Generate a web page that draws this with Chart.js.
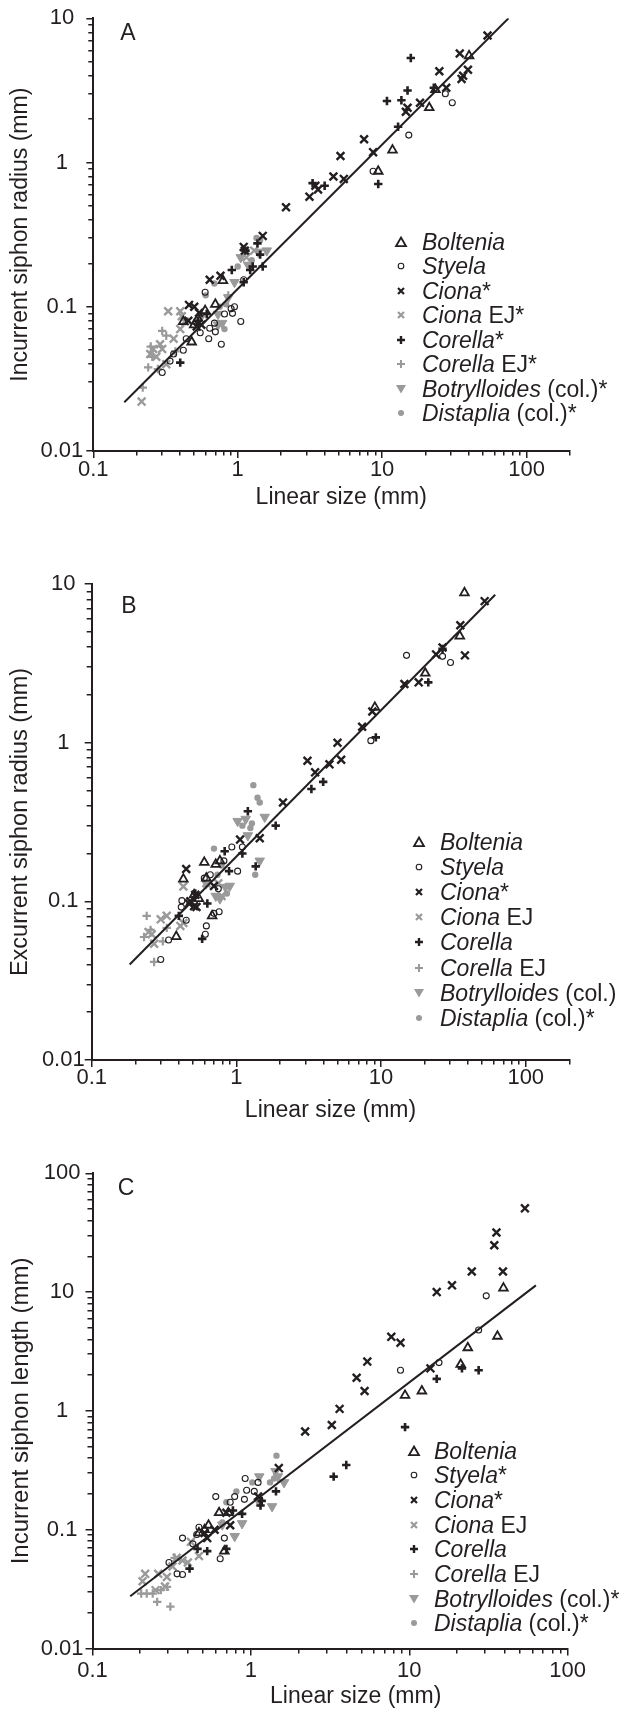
<!DOCTYPE html>
<html>
<head>
<meta charset="utf-8">
<title>Siphon size vs linear size</title>
<script src="https://cdn.jsdelivr.net/npm/chart.js@4.4.1/dist/chart.umd.min.js"></script>
<style>
  html, body { margin: 0; padding: 0; background: #fff; }
  body { position: relative; width: 624px; height: 1719px; overflow: hidden;
         font-family: "Liberation Sans", Arial, sans-serif; color: #231f20; }
  canvas { position: absolute; left: 0; }
  .tag { position: absolute; font-size: 23px; line-height: 23px; transform: translate(-50%, -50%); }
  .row { position: absolute; font-size: 23px; line-height: 24px; white-space: nowrap; transform: translateY(-50%); }
  .mark { position: absolute; }
</style>
</head>
<body>
<canvas id="chartA" width="624" height="520" style="top:0;width:624px;height:520px"></canvas>
<canvas id="chartB" width="624" height="580" style="top:560px;width:624px;height:580px"></canvas>
<canvas id="chartC" width="624" height="579" style="top:1140px;width:624px;height:579px"></canvas>
<div id="overlay"></div>
<script>
// ---- data: [linear size (mm), siphon value (mm)] ----

// Panel A: incurrent siphon radius
var aBoltenia = [[9.4,0.87],[11.8,1.22],[21.2,2.4],[23.4,3.2],[40,5.5],[0.79,0.152],[0.595,0.094],[0.5,0.075],[0.42,0.079],[0.48,0.057],[0.7,0.104],[0.53,0.083]];
var aStyela = [[27.4,3.0],[30.6,2.6],[15.3,1.55],[8.66,0.87],[0.595,0.126],[1.1,0.154],[0.95,0.1],[0.9,0.097],[1.05,0.079],[0.77,0.055],[0.63,0.06],[0.7,0.067],[0.81,0.089],[0.92,0.09],[0.69,0.077],[0.3,0.035],[0.34,0.042],[0.36,0.047],[0.42,0.05],[0.44,0.06],[0.55,0.066],[0.64,0.071]];
var aCiona = [[53.7,7.6],[34.5,5.7],[24.9,4.3],[36.4,4.0],[39.3,4.4],[35.5,3.8],[27.8,3.3],[18.3,2.6],[15,2.4],[14.6,2.25],[8.66,1.18],[7.5,1.45],[5.15,1.11],[4.6,0.8],[5.43,0.77],[3.45,0.69],[3.14,0.58],[3.6,0.65],[2.16,0.49],[1.49,0.31],[1.1,0.26],[1.12,0.245],[0.64,0.154],[0.76,0.164],[0.46,0.103],[0.5,0.1],[0.54,0.091],[0.455,0.08],[0.52,0.073],[0.56,0.075]];
var aCionaEJ = [[0.216,0.022],[0.33,0.093],[0.4,0.093],[0.41,0.086],[0.248,0.047],[0.26,0.051],[0.273,0.045],[0.3,0.051],[0.36,0.06],[0.4,0.07],[0.43,0.079],[0.32,0.04],[0.29,0.055],[1.15,0.22],[1.3,0.245]];
var aCorella = [[15.8,5.3],[10.8,2.67],[13.6,2.7],[15,3.16],[22.8,3.3],[12.9,1.77],[9.4,0.71],[4.0,0.69],[3.3,0.72],[1.37,0.275],[1.43,0.23],[1.49,0.19],[1.27,0.19],[1.22,0.18],[1.13,0.245],[1.1,0.148],[0.91,0.18],[0.4,0.041],[0.53,0.08],[0.61,0.089]];
var aCorellaEJ = [[0.22,0.0275],[0.24,0.038],[0.256,0.045],[0.3,0.068],[0.32,0.063],[0.25,0.053],[0.28,0.037],[0.37,0.049],[0.86,0.12]];
var aBotry = [[1.59,0.245],[1.05,0.22],[1.18,0.195],[0.95,0.148],[0.86,0.116],[0.73,0.089],[0.78,0.077],[0.55,0.083],[0.73,0.075],[1.39,0.24]];
var aDistaplia = [[1.35,0.3],[1.43,0.29],[1.15,0.245],[1.0,0.19],[0.69,0.145],[0.6,0.12],[0.81,0.07],[0.75,0.1],[0.83,0.104],[1.25,0.21]];
var aFit = [[0.164,0.0218],[75,10]];

// Panel B: excurrent siphon radius
var bBoltenia = [[37.7,8.8],[35,4.7],[20.2,2.74],[9.06,1.67],[0.43,0.138],[0.6,0.176],[0.72,0.171],[0.51,0.11],[0.55,0.104],[0.68,0.081],[0.384,0.06],[0.77,0.18],[0.62,0.14]];
var bStyela = [[15,3.55],[26.6,3.5],[30.2,3.2],[8.5,1.03],[0.3,0.043],[0.34,0.057],[0.42,0.101],[0.416,0.092],[0.45,0.076],[0.6,0.14],[0.75,0.12],[0.76,0.086],[0.7,0.084],[0.62,0.07],[0.61,0.062],[0.82,0.18],[0.93,0.22],[1.02,0.155],[1.1,0.22],[0.66,0.147]];
var bCiona = [[52,7.8],[35.3,5.5],[26.6,3.98],[38,3.55],[24,3.6],[18.2,2.4],[14.5,2.34],[8.7,1.57],[7.4,1.26],[5.0,1.0],[5.3,0.78],[4.4,0.73],[3.1,0.77],[3.5,0.65],[2.1,0.42],[1.45,0.25],[1.06,0.245],[0.45,0.16],[0.52,0.11],[0.48,0.1],[0.51,0.093],[0.53,0.092],[0.47,0.097],[0.7,0.125]];
var bCionaEJ = [[0.33,0.081],[0.3,0.077],[0.43,0.124],[0.41,0.07],[0.43,0.073],[0.247,0.064],[0.27,0.054],[0.26,0.062],[0.75,0.13],[0.79,0.108],[0.62,0.13]];
var bCorella = [[26.6,3.9],[21.2,2.4],[9.2,1.08],[3.3,0.51],[3.98,0.566],[1.87,0.3],[1.2,0.37],[1.1,0.2],[0.89,0.155],[0.83,0.207],[1.36,0.166],[0.58,0.058],[0.63,0.097],[0.4,0.081],[0.52,0.112]];
var bCorellaEJ = [[0.24,0.081],[0.27,0.0415],[0.23,0.0596],[0.31,0.056],[0.255,0.066],[0.33,0.068]];
var bBotry = [[1.57,0.34],[1.45,0.18],[1.2,0.26],[1.02,0.32],[1.16,0.33],[0.77,0.104],[0.72,0.108],[0.9,0.125],[0.84,0.123],[0.62,0.13]];
var bDistaplia = [[1.31,0.54],[1.4,0.45],[1.45,0.42],[1.1,0.3],[1.28,0.31],[1.25,0.29],[0.7,0.215],[1.35,0.147],[0.79,0.168],[0.74,0.147],[0.86,0.112]];
var bFit = [[0.183,0.04],[61.5,8.55]];

// Panel C: incurrent siphon length
var cBoltenia = [[39.3,10.8],[36,4.25],[23.4,3.4],[21.1,2.46],[12,1.47],[9.4,1.35],[0.63,0.139],[0.54,0.109],[0.47,0.094],[0.68,0.066],[0.72,0.139],[0.51,0.1]];
var cStyela = [[30.6,9.3],[27.4,4.8],[8.8,2.2],[15.4,2.55],[0.6,0.19],[0.92,0.27],[1.11,0.25],[1.05,0.21],[0.94,0.215],[0.79,0.19],[0.91,0.18],[0.304,0.053],[0.342,0.0425],[0.37,0.042],[0.37,0.085],[0.43,0.076],[0.47,0.105],[0.64,0.057],[0.68,0.085],[0.74,0.17],[0.455,0.091]];
var cCiona = [[53.7,50.7],[35.5,31.7],[34.4,24.8],[24.8,14.9],[39,14.9],[18.6,11.4],[14.9,10],[7.7,4.2],[8.8,3.75],[5.43,2.6],[4.65,1.9],[5.22,1.47],[3.63,1.04],[3.24,0.76],[2.2,0.67],[1.5,0.33],[13.6,2.28],[0.51,0.094],[0.74,0.109],[0.59,0.1],[0.7,0.139],[1.11,0.19],[0.53,0.085]];
var cCionaEJ = [[0.215,0.0425],[0.207,0.0368],[0.26,0.0425],[0.295,0.04],[0.287,0.0332],[0.25,0.031],[0.34,0.058],[0.37,0.055],[0.418,0.079],[0.47,0.06],[0.32,0.049],[0.4,0.053]];
var cCorella = [[27.4,2.2],[21.5,2.28],[14.9,1.86],[9.4,0.73],[4.0,0.35],[3.33,0.28],[1.44,0.21],[1.15,0.16],[1.17,0.175],[0.88,0.136],[0.77,0.145],[0.41,0.047],[0.53,0.066],[0.46,0.069],[0.7,0.069]];
var cCorellaEJ = [[0.31,0.0225],[0.256,0.0247],[0.24,0.029],[0.203,0.029],[0.22,0.029],[0.27,0.031],[0.295,0.033],[0.33,0.058]];
var cBotry = [[1.43,0.31],[1.48,0.28],[1.62,0.25],[1.12,0.173],[1.36,0.157],[0.79,0.088],[0.88,0.113],[0.66,0.11],[1.13,0.28]];
var cDistaplia = [[1.45,0.42],[1.4,0.27],[1.32,0.25],[0.81,0.21],[0.7,0.17],[1.02,0.25],[0.66,0.115]];
var cFit = [[0.173,0.0275],[63,11.4]];

// tick labels (decades only, minor ticks unlabeled)
var xTickLabels = ['0.1', '1', '10', '100'];
var yTickLabelsAB = ['0.01', '0.1', '1', '10'];
var yTickLabelsC = ['0.01', '0.1', '1', '10', '100'];

// legend text: [italic genus, plain suffix]
var legendA = [['Boltenia',''],['Styela',''],['Ciona','*'],['Ciona',' EJ*'],['Corella','*'],['Corella',' EJ*'],['Botrylloides',' (col.)*'],['Distaplia',' (col.)*']];
var legendB = [['Boltenia',''],['Styela',''],['Ciona','*'],['Ciona',' EJ'],['Corella',''],['Corella',' EJ'],['Botrylloides',' (col.)'],['Distaplia',' (col.)*']];
var legendC = [['Boltenia',''],['Styela','*'],['Ciona','*'],['Ciona',' EJ'],['Corella',''],['Corella',' EJ'],['Botrylloides',' (col.)*'],['Distaplia',' (col.)*']];

var BLACK = '#231f20';
var GREY = '#9a9a9a';
var NONE = 'rgba(0,0,0,0)';

Chart.defaults.font.family = '"Liberation Sans", Arial, sans-serif';
Chart.defaults.color = BLACK;

// marker look per taxon
var look = {
  Boltenia:   { pointStyle: 'triangle', pointRadius: 5, borderColor: BLACK, backgroundColor: NONE, borderWidth: 1.8, svg: '<polygon points="7,2.5 12,11.2 2,11.2" fill="none" stroke="' + BLACK + '" stroke-width="1.8"/>' },
  Styela:     { pointStyle: 'circle', pointRadius: 3, borderColor: BLACK, backgroundColor: NONE, borderWidth: 1.1, svg: '<circle cx="7" cy="7" r="2.8" fill="none" stroke="' + BLACK + '" stroke-width="1.1"/>' },
  Ciona:      { pointStyle: 'crossRot', pointRadius: 5.5, borderColor: BLACK, backgroundColor: BLACK, borderWidth: 2.4, svg: '<path d="M4,4L10,10M10,4L4,10" stroke="' + BLACK + '" stroke-width="2.2"/>' },
  CionaEJ:    { pointStyle: 'crossRot', pointRadius: 5.5, borderColor: GREY, backgroundColor: GREY, borderWidth: 2.4, svg: '<path d="M4,4L10,10M10,4L4,10" stroke="' + GREY + '" stroke-width="2.2"/>' },
  Corella:    { pointStyle: 'cross', pointRadius: 4.2, borderColor: BLACK, backgroundColor: BLACK, borderWidth: 2.6, svg: '<path d="M7,3V11M3,7H11" stroke="' + BLACK + '" stroke-width="2.4"/>' },
  CorellaEJ:  { pointStyle: 'cross', pointRadius: 4.2, borderColor: GREY, backgroundColor: GREY, borderWidth: 2.2, svg: '<path d="M7,3V11M3,7H11" stroke="' + GREY + '" stroke-width="2"/>' },
  Botry:      { pointStyle: 'triangle', pointRotation: 180, pointRadius: 5.5, borderColor: GREY, backgroundColor: GREY, borderWidth: 1, svg: '<polygon points="2,3 12,3 7,11.5" fill="' + GREY + '"/>' },
  Distaplia:  { pointStyle: 'circle', pointRadius: 3.2, borderColor: GREY, backgroundColor: GREY, borderWidth: 0, svg: '<circle cx="7" cy="7" r="3" fill="' + GREY + '"/>' }
};
var legendKeys = ['Boltenia', 'Styela', 'Ciona', 'CionaEJ', 'Corella', 'CorellaEJ', 'Botry', 'Distaplia'];
// drawing order: first dataset ends up on top
var drawOrder = ['Ciona', 'Corella', 'Boltenia', 'Styela', 'CionaEJ', 'CorellaEJ', 'Botry', 'Distaplia'];

function toXY(arr) {
  return arr.map(function (p) { return { x: p[0], y: p[1] }; });
}

function isDecade(v) {
  var l = Math.log10(v);
  return Math.abs(l - Math.round(l)) < 1e-6;
}

// 1..9 x 10^n between min and max
function logTicks(min, max) {
  var out = [];
  for (var e = Math.floor(Math.log10(min)); e <= Math.ceil(Math.log10(max)); e++) {
    for (var m = 1; m <= 9; m++) {
      var v = parseFloat((m * Math.pow(10, e)).toPrecision(6));
      if (v >= min * 0.9999 && v <= max * 1.0001) out.push(v);
    }
  }
  return out;
}

function labelFor(v, labels) {
  for (var i = 0; i < labels.length; i++) {
    if (Math.abs(parseFloat(labels[i]) - v) < v * 1e-6) return labels[i];
  }
  return '';
}

function makePanel(p) {
  var datasets = [{
    data: toXY(p.fit), showLine: true, borderColor: BLACK, borderWidth: 2,
    pointRadius: 0, fill: false
  }];
  drawOrder.forEach(function (k) {
    var lk = look[k];
    datasets.push({
      data: toXY(p.series[k]),
      pointStyle: lk.pointStyle, pointRotation: lk.pointRotation || 0,
      pointRadius: lk.pointRadius, pointBorderWidth: lk.borderWidth,
      pointBorderColor: lk.borderColor, pointBackgroundColor: lk.backgroundColor,
      borderColor: lk.borderColor, backgroundColor: lk.backgroundColor
    });
  });

  new Chart(document.getElementById(p.canvas), {
    type: 'scatter',
    data: { datasets: datasets },
    options: {
      responsive: false,
      animation: false,
      layout: { padding: { top: p.padTop, right: p.padRight, left: 0, bottom: 0 } },
      plugins: { legend: { display: false }, tooltip: { enabled: false } },
      scales: {
        x: {
          type: 'logarithmic', min: 0.1, max: p.xMax,
          afterFit: function (s) { s.height = p.xHeight; },
          afterBuildTicks: function (s) { s.ticks = logTicks(0.1, p.xMax).map(function (v) { return { value: v }; }); },
          border: { color: BLACK, width: 2 },
          grid: {
            drawOnChartArea: false, tickLength: 7, lineWidth: 1.5, tickWidth: 1.5, tickColor: BLACK,
            tickBorderDash: function (c) { return c.tick && !isDecade(c.tick.value) ? [3.5, 20] : []; }
          },
          ticks: {
            autoSkip: false, maxRotation: 0, padding: p.xPad, color: BLACK,
            font: { size: 22, lineHeight: 1 },
            callback: function (v) { return labelFor(v, xTickLabels); }
          },
          title: {
            // leading spaces nudge the centred title to the right, as in the figure
            display: true, text: ' '.repeat(p.xTitleShift) + 'Linear size (mm)', color: BLACK,
            font: { size: 23, lineHeight: 1 }, padding: { top: 0, bottom: p.xTitlePad }
          }
        },
        y: {
          type: 'logarithmic', min: p.yMin, max: p.yMax,
          afterFit: function (s) { s.width = p.left; },
          afterBuildTicks: function (s) { s.ticks = logTicks(p.yMin, p.yMax).map(function (v) { return { value: v }; }); },
          border: { color: BLACK, width: 2 },
          grid: {
            drawOnChartArea: false, tickLength: 7, lineWidth: 1.5, tickWidth: 1.5, tickColor: BLACK,
            tickBorderDash: function (c) { return c.tick && !isDecade(c.tick.value) ? [0, 2, 20] : []; }
          },
          ticks: {
            autoSkip: false, crossAlign: 'center', padding: p.yPad, color: BLACK,
            font: { size: 22, lineHeight: 1 },
            callback: function (v) { return labelFor(v, p.yLabels); }
          },
          title: {
            display: true, text: p.yTitle, color: BLACK,
            font: { size: p.yTitleSize, lineHeight: 1 }, padding: { top: 9, bottom: 0 }
          }
        }
      }
    }
  });

  // panel letter and legend as page text
  var ov = document.getElementById('overlay');
  var tag = document.createElement('div');
  tag.className = 'tag';
  tag.style.left = p.tag[1] + 'px';
  tag.style.top = p.tag[2] + 'px';
  tag.textContent = p.tag[0];
  ov.appendChild(tag);

  p.legend.forEach(function (item, i) {
    var y = p.legendY + i * p.legendStep;
    var m = document.createElement('div');
    m.className = 'mark';
    m.style.left = (p.legendMarkX - 7) + 'px';
    m.style.top = (y - 7) + 'px';
    m.innerHTML = '<svg width="14" height="14" viewBox="0 0 14 14">' + look[legendKeys[i]].svg + '</svg>';
    ov.appendChild(m);

    var r = document.createElement('div');
    r.className = 'row';
    r.style.left = p.legendTextX + 'px';
    r.style.top = y + 'px';
    var em = document.createElement('i');
    em.textContent = item[0];
    r.appendChild(em);
    r.appendChild(document.createTextNode(item[1]));
    ov.appendChild(r);
  });
}

makePanel({
  canvas: 'chartA', padTop: 18.3, padRight: 54, left: 93.3, xHeight: 69, xMax: 200,
  yMin: 0.01, yMax: 10, yLabels: yTickLabelsAB, yPad: 3, xPad: 1, xTitlePad: 10.5, xTitleShift: 3,
  yTitle: 'Incurrent siphon radius (mm)', yTitleSize: 23, fit: aFit,
  series: { Boltenia: aBoltenia, Styela: aStyela, Ciona: aCiona, CionaEJ: aCionaEJ, Corella: aCorella, CorellaEJ: aCorellaEJ, Botry: aBotry, Distaplia: aDistaplia },
  tag: ['A', 128, 32], legend: legendA, legendY: 241.7, legendStep: 24.5, legendMarkX: 401, legendTextX: 422
});

makePanel({
  canvas: 'chartB', padTop: 24, padRight: 54.7, left: 91.7, xHeight: 80, xMax: 200,
  yMin: 0.01, yMax: 10, yLabels: yTickLabelsAB, yPad: 0, xPad: 0, xTitlePad: 17.5, xTitleShift: 0,
  yTitle: 'Excurrent siphon radius (mm)', yTitleSize: 23.5, fit: bFit,
  series: { Boltenia: bBoltenia, Styela: bStyela, Ciona: bCiona, CionaEJ: bCionaEJ, Corella: bCorella, CorellaEJ: bCorellaEJ, Botry: bBotry, Distaplia: bDistaplia },
  tag: ['B', 129, 605], legend: legendB, legendY: 842, legendStep: 25.1, legendMarkX: 419, legendTextX: 440
});

makePanel({
  canvas: 'chartC', padTop: 33.3, padRight: 56.3, left: 92.5, xHeight: 70.5, xMax: 100,
  yMin: 0.01, yMax: 100, yLabels: yTickLabelsC, yPad: 2, xPad: 4.5, xTitlePad: 10.5, xTitleShift: 8,
  yTitle: 'Incurrent siphon length (mm)', yTitleSize: 24, fit: cFit,
  series: { Boltenia: cBoltenia, Styela: cStyela, Ciona: cCiona, CionaEJ: cCionaEJ, Corella: cCorella, CorellaEJ: cCorellaEJ, Botry: cBotry, Distaplia: cDistaplia },
  tag: ['C', 126, 1187], legend: legendC, legendY: 1450.5, legendStep: 24.7, legendMarkX: 414, legendTextX: 434
});
</script>
</body>
</html>
